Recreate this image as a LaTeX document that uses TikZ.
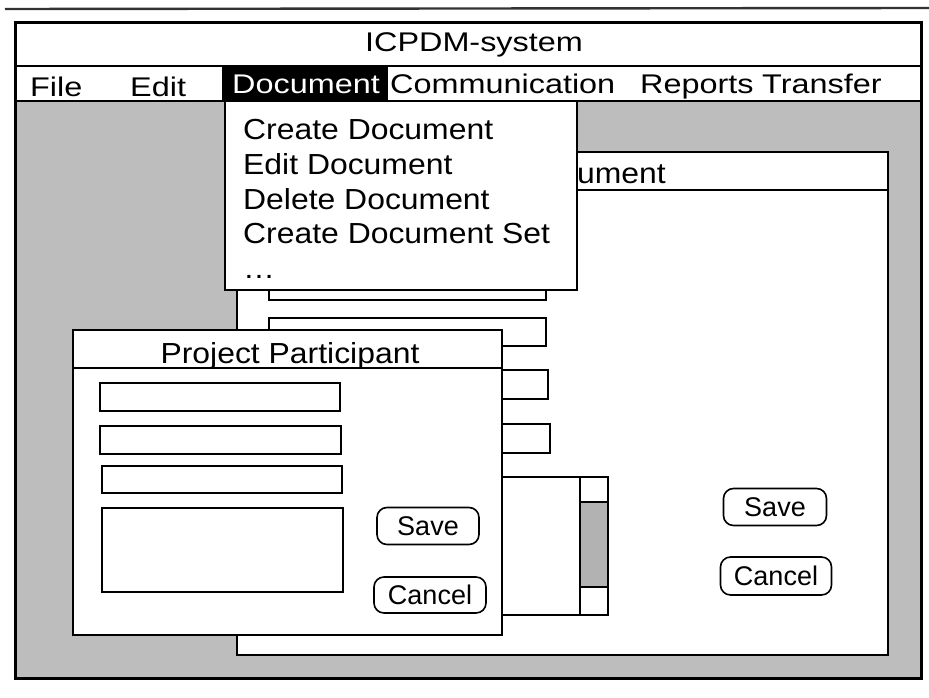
\documentclass[tikz,border=0pt]{standalone}
\usepackage{fontspec}
\setmainfont{Liberation Sans}
\newfontfamily\barfont[FakeStretch=1.2]{Liberation Sans}
\newfontfamily\winfont[FakeStretch=1.1]{Liberation Sans}
\usetikzlibrary{positioning}

\begin{document}
\begin{tikzpicture}[x=1pt,y=-1pt,node distance=34.5pt,
    outer/.style={draw,line width=3pt},
    window/.style={draw,fill=white,line width=2.3pt},
    field/.style={draw,fill=white,line width=1.8pt},
    bar text/.style={inner sep=0pt,anchor=base west,font=\barfont\fontsize{27}{30}\selectfont},
    item text/.style={inner sep=0pt,anchor=base west,font=\winfont\fontsize{29}{32}\selectfont},
    button/.style={draw,fill=white,rounded corners=10pt,line width=1.6pt,inner sep=0pt,font=\fontsize{27}{30}\selectfont}]

            \useasboundingbox (0,0) rectangle (929,698);
            \draw[line width=2.4pt,black!80] (5,9) -- (929,8);

            % screen, desktop, title and menu bar
            \fill[black!26] (15,101) rectangle (921,678);
            \draw[outer] (15,23) rectangle (921,678);
            \draw[line width=2pt] (15,66) -- (921,66);
            \draw[line width=2pt] (15,101) -- (225,101);
            \draw[line width=2pt] (577,101) -- (921,101);
            \node[inner sep=0pt,font=\barfont\fontsize{27}{30}\selectfont] (title) at (474,45) {ICPDM-system};

            \fill (222,67) rectangle (388,101);
            \node[bar text] (file) at (30,97) {File};
            \node[bar text] (edit) at (130,97) {Edit};
            \node[bar text,text=white] (docmenu) at (232,94) {Document};
            \node[bar text] (comm) at (390,94) {Communication};
            \node[bar text] (reports) at (640,94) {Reports};
            \node[bar text] (transfer) at (762,94) {Transfer};

            % document window
            \draw[window] (237,152) rectangle (888,655);
            \draw[line width=2pt] (237,190) -- (888,190);
            \node[item text,anchor=base east] (doctitle) at (666,183) {Document};
            \draw[field] (269,271) rectangle (546,300);
            \draw[field] (269,318) rectangle (546,346);
            \draw[field] (269,370) rectangle (548,399);
            \draw[field] (269,424) rectangle (550,453);
            \draw[field] (269,477) rectangle (580,615);
            \draw[field] (580,477) rectangle (608,615);
            \draw[field,fill=black!30] (580,502) rectangle (608,587);
            \node[button,minimum width=103pt,minimum height=37pt] (docsave) at (775,507) {Save};
            \node[button,minimum width=111pt,minimum height=38pt] (doccancel) at (776,576) {Cancel};

            % project participant window
            \draw[window] (73,330) rectangle (502,635);
            \draw[line width=2pt] (73,368) -- (502,368);
            \node[item text,anchor=base] (pptitle) at (290,363) {Project Participant};
            \draw[field] (100,383) rectangle (340,411);
            \draw[field] (100,426) rectangle (341,454);
            \draw[field] (102,466) rectangle (342,493);
            \draw[field] (102,508) rectangle (343,592);
            \node[button,minimum width=102pt,minimum height=37pt] (ppsave) at (428,526) {Save};
            \node[button,minimum width=112pt,minimum height=36pt] (ppcancel) at (430,595) {Cancel};

            % pulled down document menu
            \draw[window,line width=2.8pt] (225,101) rectangle (577,290);
            \node[item text] (create) at (243,140) {Create Document};
            \node[item text,below=of create.base west,anchor=base west] (editdoc) {Edit Document};
            \node[item text,below=of editdoc.base west,anchor=base west] (delete) {Delete Document};
            \node[item text,below=of delete.base west,anchor=base west] (docset) {Create Document Set};
            \node[item text,below=of docset.base west,anchor=base west] (more) {\dots};

            ;
        \end{tikzpicture}
\end{document}
